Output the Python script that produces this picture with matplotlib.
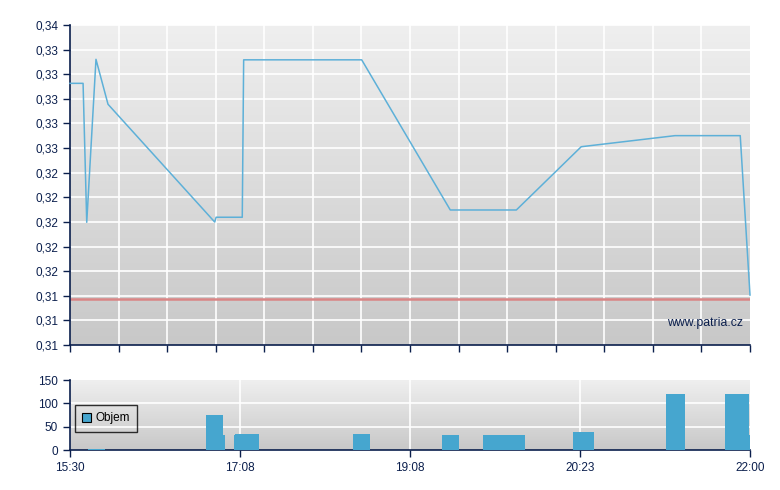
import matplotlib
matplotlib.use("Agg")
import matplotlib.pyplot as plt
import numpy as np

plt.rcParams["font.family"] = ["Liberation Sans", "DejaVu Sans"]

# price line, minutes after 15:30
t_price = [0, 7.5, 9.6, 14.9, 21.8, 83.0, 83.8, 98.8, 99.6, 167.3, 218.1, 256.0, 293.2, 347.0, 384.4, 390]
price = [0.33126, 0.33126, 0.31997, 0.33321, 0.32956, 0.31999, 0.32038, 0.32038,
         0.33317, 0.33317, 0.32097, 0.32097, 0.32611, 0.32701, 0.32701, 0.31406]
prev_close = 0.31370

# volume bars (left edge in minutes)
t_vol = [10.3, 79.2, 78.0, 94.1, 94.6, 98.6, 162.3, 213.3, 236.8, 246.6, 251.2,
         288.5, 290.8, 341.8, 342.9, 380.2, 375.7, 379.7]
volume = [2, 33, 75, 32, 35, 35, 34, 32, 32, 32, 32, 38, 38, 120, 120, 32, 120, 120]
bar_w = 9.75

y_labels = ["0,31", "0,31", "0,31", "0,32", "0,32", "0,32", "0,32", "0,32",
            "0,33", "0,33", "0,33", "0,33", "0,33", "0,34"]
x_labels = ["15:30", "17:08", "19:08", "20:23", "22:00"]
vol_ticks = [0, 50, 100, 150]

navy = "#0b1f4d"
ymin, ymax = 0.310, 0.336

fig = plt.figure(figsize=(7.8, 4.9), dpi=100)
ax = fig.add_axes([70 / 780, 1 - 345 / 490, 680 / 780, 320 / 490])
ax2 = fig.add_axes([70 / 780, 1 - 450 / 490, 680 / 780, 70 / 490])

grad = np.linspace(0, 1, 256).reshape(-1, 1)
cmap = matplotlib.colors.LinearSegmentedColormap.from_list("g", ["#efefef", "#c8c8c8"])
for a in (ax, ax2):
    a.imshow(grad, extent=[0, 1, 0, 1], transform=a.transAxes, aspect="auto",
             cmap=cmap, zorder=0)
    for s in ("top", "right"):
        a.spines[s].set_visible(False)
    for s in ("left", "bottom"):
        a.spines[s].set_color(navy)
        a.spines[s].set_linewidth(1.2)
    a.tick_params(colors=navy, labelcolor=navy, labelsize=8.5, length=5, width=1)
    a.set_xlim(0, 390)

# top chart
ax.set_ylim(ymin, ymax)
yt = np.linspace(ymin, ymax, len(y_labels))
ax.set_yticks(yt)
ax.set_yticklabels(y_labels)
xt = np.linspace(0, 390, 15)
ax.set_xticks(xt)
ax.set_xticklabels([])
for v in yt[1:]:
    ax.axhline(v, color="white", lw=1.2, zorder=1)
for v in xt[1:-1]:
    ax.axvline(v, color="white", lw=1.2, zorder=1)
ax.axhline(prev_close, color="#d98585", lw=1.8, zorder=2)
ax.plot(t_price, price, color="#5db0d8", lw=1.1, zorder=3, clip_on=False)
ax.text(0.99, 0.068, "www.patria.cz", transform=ax.transAxes, ha="right", va="center",
        color=navy, fontsize=8.8, zorder=4)

# volume chart
ax2.set_ylim(0, 150)
ax2.set_yticks(vol_ticks)
xt2 = np.linspace(0, 390, 5)
ax2.set_xticks(xt2)
ax2.set_xticklabels(x_labels)
for v in vol_ticks[1:3]:
    ax2.axhline(v, color="white", lw=1.2, zorder=1)
for v in xt2[1:-1]:
    ax2.axvline(v, color="white", lw=1.2, zorder=1)
ax2.bar(t_vol, volume, width=bar_w, align="edge", color="#46a6cf", zorder=3, label="Objem")
leg = ax2.legend(loc="upper left", bbox_to_anchor=(5 / 680, 45 / 70), fontsize=8.5,
                 frameon=True, fancybox=False, handlelength=0.75, handleheight=0.75,
                 borderpad=0.62, handletextpad=0.35, borderaxespad=0, labelcolor="black")
leg.get_frame().set_edgecolor("black")
leg.get_frame().set_facecolor("none")
leg.get_frame().set_linewidth(1)
leg.legend_handles[0].set_edgecolor("black")
leg.legend_handles[0].set_linewidth(0.8)

fig.savefig("out.png", dpi=100)
